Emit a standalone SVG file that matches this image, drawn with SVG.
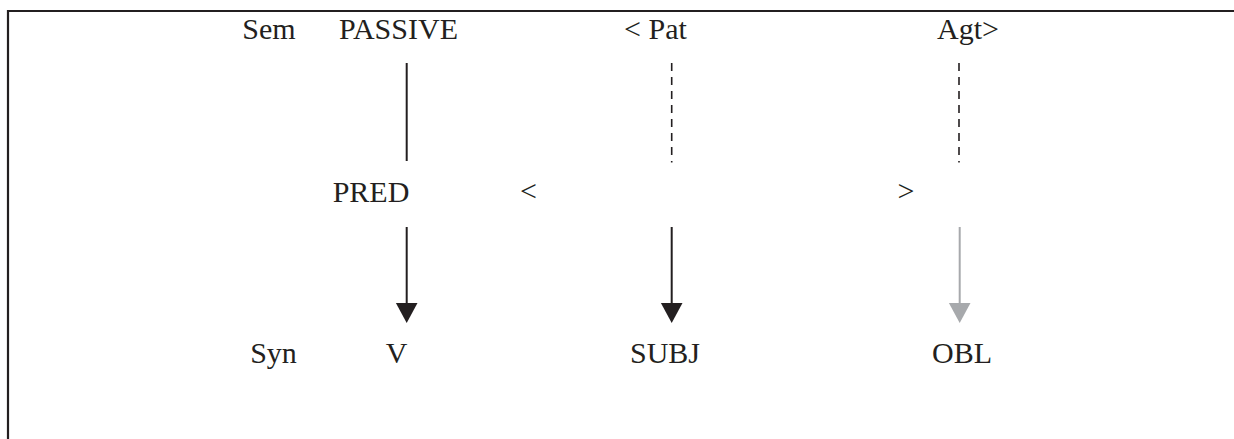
<svg xmlns="http://www.w3.org/2000/svg" width="1234" height="439" viewBox="0 0 1234 439">
  <style>
    .t { font-family: "Liberation Serif", "Times New Roman", serif; font-size: 30px; fill: #231f20; text-anchor: middle; }
    .solid { stroke: #231f20; stroke-width: 2; fill: none; }
    .dash { stroke: #231f20; stroke-width: 1.6; stroke-dasharray: 8 6; fill: none; }
    .arrow { stroke: #231f20; stroke-width: 2; fill: none; marker-end: url(#head); }
    .arrow-grey { stroke: #a7a9ac; stroke-width: 2; fill: none; marker-end: url(#headGrey); }
  </style>
  <defs>
    <marker id="head" markerUnits="userSpaceOnUse" markerWidth="22" markerHeight="22" refX="0" refY="11" orient="auto" overflow="visible">
      <path d="M0,0.2 L20,11 L0,21.8 Z" fill="#231f20"/>
    </marker>
    <marker id="headGrey" markerUnits="userSpaceOnUse" markerWidth="22" markerHeight="22" refX="0" refY="11" orient="auto" overflow="visible">
      <path d="M0,0.2 L20,11 L0,21.8 Z" fill="#a7a9ac"/>
    </marker>
  </defs>
  <rect width="1234" height="439" fill="#ffffff"/>
  <g id="frame">
    <path d="M8,439 V11 H1234" stroke="#231f20" stroke-width="2.2" fill="none"/>
  </g>
  <g id="connectors">
    <line class="solid" x1="406.7" y1="63" x2="406.7" y2="161"/>
    <line class="dash" x1="671.7" y1="63" x2="671.7" y2="162.5"/>
    <line class="dash" x1="959" y1="63" x2="959" y2="162.5"/>
    <line class="arrow" x1="406.7" y1="227" x2="406.7" y2="303"/>
    <line class="arrow" x1="671.7" y1="227" x2="671.7" y2="303"/>
    <line class="arrow-grey" x1="959.7" y1="227" x2="959.7" y2="303"/>
  </g>
  <g id="label-sem"><text class="t" x="269" y="39">Sem</text></g>
  <g id="node-passive"><text class="t" x="398.5" y="39">PASSIVE</text></g>
  <g id="node-pat"><text class="t" x="655.5" y="39">&lt; Pat</text></g>
  <g id="node-agt"><text class="t" x="968" y="39">Agt&gt;</text></g>
  <g id="node-pred"><text class="t" x="371" y="202">PRED</text></g>
  <g id="bracket-open"><text class="t" x="528.5" y="201">&lt;</text></g>
  <g id="bracket-close"><text class="t" x="906" y="201">&gt;</text></g>
  <g id="label-syn"><text class="t" x="273.5" y="363">Syn</text></g>
  <g id="node-v"><text class="t" x="396.5" y="363">V</text></g>
  <g id="node-subj"><text class="t" x="665" y="363">SUBJ</text></g>
  <g id="node-obl"><text class="t" x="962" y="363">OBL</text></g>
</svg>
